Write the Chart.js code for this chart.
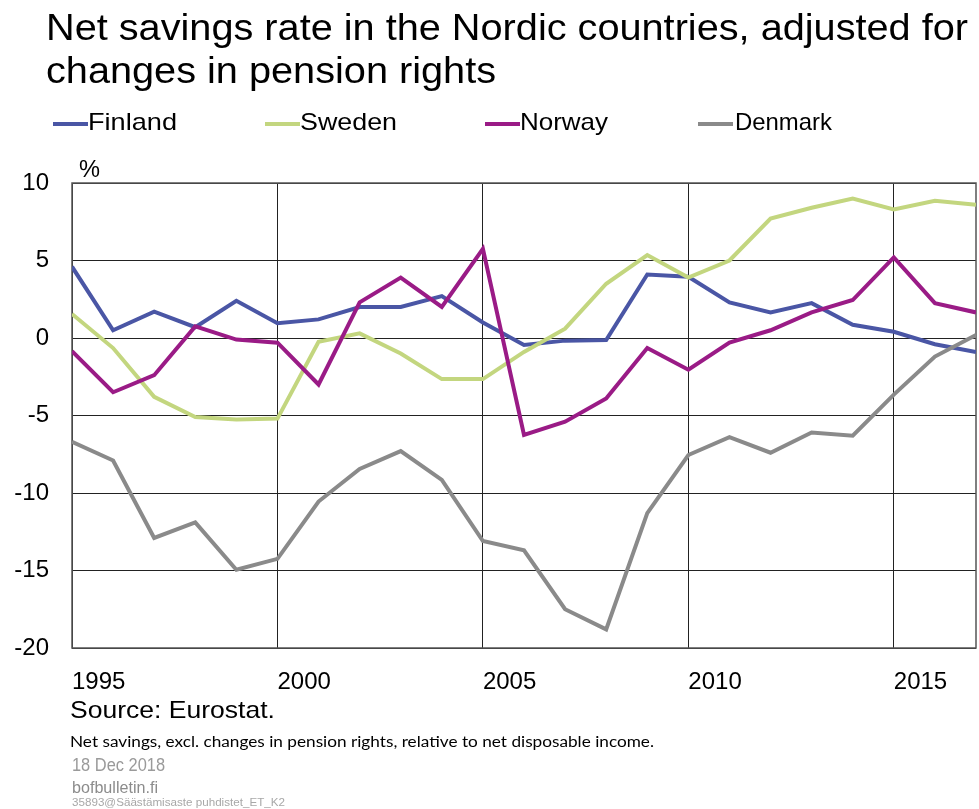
<!DOCTYPE html>
<html><head><meta charset="utf-8">
<script src="https://cdn.jsdelivr.net/npm/chart.js@4.4.1/dist/chart.umd.min.js"></script>
<style>
html,body{margin:0;padding:0;background:#fff;}
#wrap{position:relative;width:979px;height:809px;overflow:hidden;font-family:"Liberation Sans",Arial,sans-serif;color:#000;}
#c{position:absolute;left:0;top:0;}
.t{position:absolute;white-space:nowrap;transform-origin:0 0;line-height:1;}
.sw{position:absolute;height:4px;width:35px;top:122px;}
</style></head><body>
<div id="wrap">
<canvas id="c" width="979" height="809"></canvas>
<div class="t" id="t1" style="left:46px;top:9.5px;font-size:36px;" data-w="922">Net savings rate in the Nordic countries, adjusted for</div>
<div class="t" id="t2" style="left:46px;top:52.5px;font-size:36px;">changes in pension rights</div>
<div class="sw" style="left:53px;background:#4a56a5"></div>
<div class="t" style="left:88px;top:109.7px;font-size:24px;" data-w="89">Finland</div>
<div class="sw" style="left:265px;background:#c3d67f"></div>
<div class="t" style="left:300px;top:109.7px;font-size:24px;" data-w="97">Sweden</div>
<div class="sw" style="left:485px;background:#9a1b86"></div>
<div class="t" style="left:520px;top:109.7px;font-size:24px;" data-w="88">Norway</div>
<div class="sw" style="left:698px;background:#8a8a8a"></div>
<div class="t" style="left:735px;top:109.7px;font-size:24px;" data-w="97">Denmark</div>
<div class="t" style="left:79px;top:156.7px;font-size:24px;" data-w="21">%</div>
<div class="t" style="left:70px;top:697.7px;font-size:24px;" data-w="205">Source: Eurostat.</div>
<div class="t" style="left:70px;top:735px;font-size:14.5px;font-family:Lato,'Open Sans',sans-serif;" data-w="584">Net savings, excl. changes in pension rights, relative to net disposable income.</div>
<div class="t" style="left:72px;top:755.8px;font-size:18px;color:#9a9a9a;" data-w="93">18 Dec 2018</div>
<div class="t" style="left:72px;top:779.5px;font-size:16px;color:#8c8c8c;" data-w="86">bofbulletin.fi</div>
<div class="t" style="left:72px;top:796.7px;font-size:11px;color:#a8a8a8;" data-w="213">35893@Säästämisaste puhdistet_ET_K2</div>
</div>
<script>
const years = [1995,1996,1997,1998,1999,2000,2001,2002,2003,2004,2005,2006,2007,2008,2009,2010,2011,2012,2013,2014,2015,2016,2017];
const finland = [4.6,0.5,1.7,0.7,2.4,0.95,1.2,2.0,2.0,2.7,1.0,-0.45,-0.17,-0.13,4.1,3.95,2.3,1.65,2.25,0.85,0.4,-0.4,-0.9];
const sweden  = [1.55,-0.65,-3.8,-5.1,-5.25,-5.2,-0.25,0.3,-1.0,-2.65,-2.65,-0.9,0.6,3.5,5.35,3.9,5.0,7.7,8.4,9.0,8.3,8.85,8.6];
const norway  = [-0.85,-3.5,-2.4,0.75,-0.1,-0.3,-3.0,2.3,3.9,2.0,5.75,-6.25,-5.4,-3.9,-0.65,-2.05,-0.3,0.5,1.65,2.45,5.2,2.25,1.65];
const denmark = [-6.7,-7.9,-12.9,-11.9,-14.95,-14.25,-10.55,-8.45,-7.3,-9.15,-13.1,-13.7,-17.5,-18.8,-11.3,-7.55,-6.4,-7.4,-6.1,-6.3,-3.65,-1.2,0.2];
const yTicks = [-20,-15,-10,-5,0,5,10];
const xTicks = [1995,2000,2005,2010,2015];

// fit text widths
const t1 = document.getElementById('t1');
let titleScale = 1;
document.querySelectorAll('[data-w]').forEach(el => {
  const w = el.getBoundingClientRect().width;
  const s = parseFloat(el.dataset.w) / w;
  el.style.transform = 'scaleX(' + s + ')';
  if (el === t1) titleScale = s;
});
document.getElementById('t2').style.transform = 'scaleX(' + titleScale + ')';

const pts = arr => arr.map((v, i) => ({x: years[i], y: v}));
const frame = {
  id: 'frame',
  beforeDatasetsDraw(chart) {
    const {ctx, chartArea: a} = chart;
    ctx.save();
    ctx.strokeStyle = '#555';
    ctx.lineWidth = 1.5;
    ctx.strokeRect(a.left, a.top, a.right - a.left, a.bottom - a.top);
    ctx.restore();
  }
};
const tickFont = {family: "'Liberation Sans', Arial, sans-serif", size: 24};
new Chart(document.getElementById('c'), {
  type: 'line',
  data: {
    datasets: [
      {label: 'Finland', data: pts(finland), borderColor: '#4a56a5', order: 4},
      {label: 'Sweden', data: pts(sweden), borderColor: '#c3d67f', order: 3},
      {label: 'Norway', data: pts(norway), borderColor: '#9a1b86', order: 2},
      {label: 'Denmark', data: pts(denmark), borderColor: '#8a8a8a', order: 1}
    ]
  },
  options: {
    responsive: false,
    animation: false,
    devicePixelRatio: 1,
    layout: {padding: {top: 183, right: 3, left: 0, bottom: 0}},
    elements: {
      line: {borderWidth: 4, tension: 0, borderJoinStyle: 'miter', fill: false},
      point: {radius: 0, hoverRadius: 0}
    },
    plugins: {legend: {display: false}, title: {display: false}, tooltip: {enabled: false}},
    scales: {
      x: {
        type: 'linear',
        min: years[0],
        max: years[years.length - 1],
        afterFit(s) { s.height = 809 - 648; },
        afterBuildTicks(s) { s.ticks = xTicks.map(v => ({value: v})); },
        grid: {color: '#222', lineWidth: 1, drawTicks: false},
        border: {display: false},
        ticks: {font: tickFont, color: '#000', align: 'start', padding: 20, maxRotation: 0, autoSkip: false, callback: v => String(v)}
      },
      y: {
        min: yTicks[0],
        max: yTicks[yTicks.length - 1],
        afterFit(s) { s.width = 72; },
        afterBuildTicks(s) { s.ticks = yTicks.map(v => ({value: v})); },
        grid: {color: '#222', lineWidth: 1, drawTicks: false},
        border: {display: false},
        ticks: {font: tickFont, color: '#000', padding: 23, callback: v => String(v)}
      }
    }
  },
  plugins: [frame]
});
</script>
</body></html>
